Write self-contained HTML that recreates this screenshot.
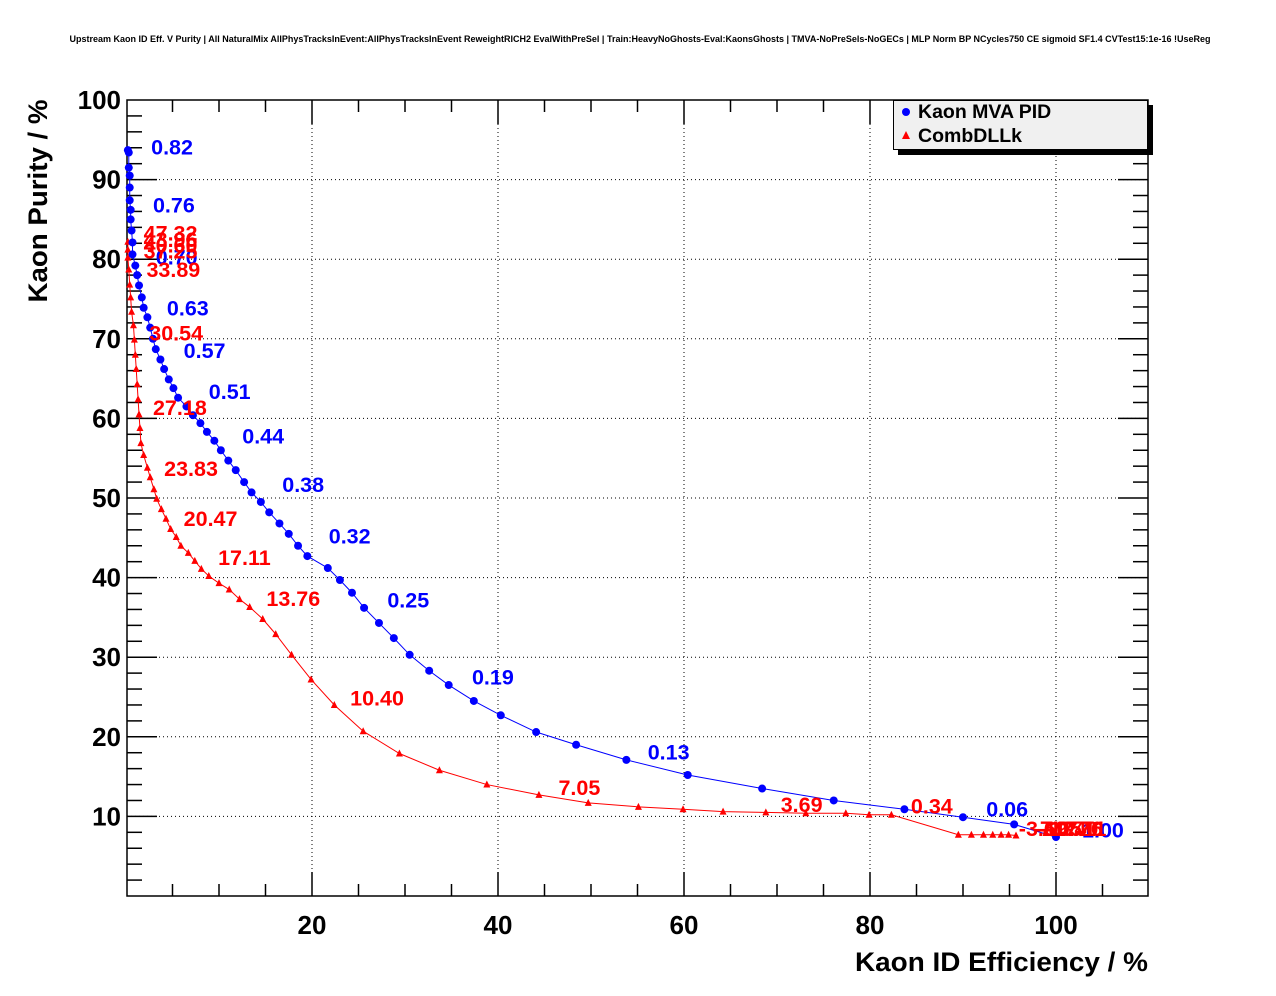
<!DOCTYPE html>
<html><head><meta charset="utf-8">
<style>
html,body{margin:0;padding:0;background:#fff;}
svg{display:block;font-family:"Liberation Sans",Arial,sans-serif;font-weight:bold;}
</style></head>
<body>
<svg id="chart" width="1276" height="996" viewBox="0 0 1276 996">
<rect x="0" y="0" width="1276" height="996" fill="#fff"/>
<text x="640" y="42" font-size="9" text-anchor="middle">Upstream Kaon ID Eff. V Purity | All NaturalMix AllPhysTracksInEvent:AllPhysTracksInEvent ReweightRICH2 EvalWithPreSel | Train:HeavyNoGhosts-Eval:KaonsGhosts | TMVA-NoPreSels-NoGECs | MLP Norm BP NCycles750 CE sigmoid SF1.4 CVTest15:1e-16 !UseReg</text>
<g id="grid"></g>
<g id="axes"></g>
<g id="series"></g>
<text transform="translate(47,201) rotate(-90)" font-size="27" text-anchor="middle" textLength="203" lengthAdjust="spacingAndGlyphs">Kaon Purity / %</text>
<text x="1148" y="971" font-size="27" text-anchor="end" textLength="293" lengthAdjust="spacingAndGlyphs">Kaon ID Efficiency / %</text>
<g>
<rect x="898" y="105" width="255" height="50" fill="#000"/>
<rect x="893.5" y="100.5" width="254" height="49" fill="#f0f0f0" stroke="#000" stroke-width="1"/>
<circle cx="906" cy="112" r="4" fill="#0000ff"/>
<text x="918" y="118" font-size="19.5">Kaon MVA PID</text>
<polygon points="906,131 902,139 910,139" fill="#ff0000"/>
<text x="918" y="142" font-size="19.5">CombDLLk</text>
</g>
</svg>
<script>
const blueX=[0.2,0.3,0.3,0.4,0.4,0.4,0.5,0.5,0.6,0.7,0.7,1.0,1.2,1.4,1.7,1.9,2.3,2.6,2.9,3.2,3.7,4.1,4.6,5.1,5.6,6.5,7.2,8.0,8.7,9.5,10.2,11.0,11.8,12.7,13.5,14.5,15.4,16.5,17.5,18.5,19.5,21.7,23.0,24.3,25.6,27.2,28.8,30.5,32.6,34.7,37.4,40.3,44.1,48.4,53.8,60.4,68.4,76.1,83.7,90.0,95.5,100.0];
const blueY=[93.7,93.4,91.5,90.5,89.0,87.4,86.2,85.0,83.6,82.1,80.6,79.2,78.0,76.7,75.2,73.9,72.7,71.4,70.0,68.7,67.4,66.2,64.9,63.8,62.6,61.5,60.4,59.4,58.3,57.2,56.0,54.7,53.5,52.0,50.7,49.5,48.2,46.8,45.5,44.0,42.7,41.2,39.7,38.1,36.2,34.3,32.4,30.3,28.3,26.5,24.5,22.7,20.6,19.0,17.1,15.2,13.5,12.0,10.9,9.9,9.0,7.4];
const redX=[0.2,0.2,0.2,0.3,0.4,0.5,0.6,0.8,0.9,1.0,1.1,1.2,1.3,1.4,1.5,1.6,1.9,2.3,2.6,3.0,3.3,3.8,4.3,4.8,5.4,5.9,6.7,7.4,8.1,8.9,10.0,11.1,12.2,13.3,14.7,16.1,17.8,19.9,22.4,25.5,29.4,33.7,38.8,44.4,49.7,55.1,59.9,64.2,68.8,73.1,77.4,79.9,82.3,89.5,90.9,92.2,93.2,94.1,94.9,95.7];
const redY=[82.2,81.2,80.2,78.7,76.8,75.2,73.4,71.7,69.9,68.0,66.2,64.3,62.4,60.5,58.8,56.9,55.4,53.8,52.6,51.1,49.9,48.6,47.4,46.1,45.1,44.0,43.1,42.1,41.1,40.2,39.3,38.5,37.3,36.3,34.8,32.9,30.3,27.2,24.0,20.7,17.9,15.8,14.0,12.7,11.7,11.2,10.9,10.6,10.5,10.4,10.4,10.2,10.2,7.7,7.7,7.7,7.7,7.7,7.7,7.6];
const blueLabels=["0.82","0.76","0.70","0.63","0.57","0.51","0.44","0.38","0.32","0.25","0.19","0.13","0.06","1.00"];
const blueLabelX=[2.7,2.9,3.2,4.4,6.2,8.9,12.5,16.8,21.8,28.1,37.2,56.1,92.5,102.8];
const blueLabelY=[94.1,86.8,80.3,73.9,68.5,63.4,57.8,51.7,45.2,37.2,27.5,18.1,10.9,8.3];
const redLabels=["47.32","43.96","40.60","37.25","33.89","30.54","27.18","23.83","20.47","17.11","13.76","10.40","7.05","3.69","0.34","-3.69","-7.05","-10.40","-13.76","-17.11"];
const redLabelX=[1.9,1.9,1.9,1.9,2.2,2.5,2.9,4.1,6.2,9.9,15.1,24.1,46.5,70.4,84.4,96.0,97.5,98.0,98.5,99.0];
const redLabelY=[83.3,82.5,81.8,81.0,78.7,70.7,61.4,53.7,47.4,42.5,37.4,24.9,13.6,11.5,11.3,8.5,8.5,8.5,8.5,8.5];
const xTicks=[20,40,60,80,100];
const yTicks=[10,20,30,40,50,60,70,80,90,100];

const X0=126,XS=9.3,Y0=896,YS=7.96;
const L=127,R=1148,T=100,B=896;
function sx(v){return X0+v*XS;}
function sy(v){return Y0-v*YS;}
const NS="http://www.w3.org/2000/svg";
function mk(tag,attrs,parent){const e=document.createElementNS(NS,tag);for(const k in attrs)e.setAttribute(k,attrs[k]);parent.appendChild(e);return e;}
const grid=document.getElementById('grid'),axes=document.getElementById('axes'),series=document.getElementById('series');

xTicks.forEach(v=>{const l=mk('line',{x1:sx(v),x2:sx(v),y1:T,y2:B,stroke:'#000','stroke-width':1,'stroke-dasharray':'1,3'},grid);

});
yTicks.forEach(v=>{const l=mk('line',{x1:L,x2:R,y1:sy(v),y2:sy(v),stroke:'#000','stroke-width':1,'stroke-dasharray':'1,3'},grid);

});

const frame=mk('rect',{x:L,y:T,width:R-L,height:B-T,fill:'none',stroke:'#000','stroke-width':1.5},axes);


for(let v=5;v<=110;v+=5){const len=(v%20===0)?24:12;const x=sx(v);if(x>R)break;
 mk('line',{x1:x,x2:x,y1:B,y2:B-len,stroke:'#000','stroke-width':1.5},axes);
 mk('line',{x1:x,x2:x,y1:T,y2:T+len,stroke:'#000','stroke-width':1.5},axes);}
for(let v=2;v<100;v+=2){const len=(v%10===0)?30:15;const y=sy(v);
 mk('line',{x1:L,x2:L+len,y1:y,y2:y,stroke:'#000','stroke-width':1.5},axes);
 mk('line',{x1:R,x2:R-len,y1:y,y2:y,stroke:'#000','stroke-width':1.5},axes);}
xTicks.forEach(v=>{const t=mk('text',{x:sx(v),y:934,'font-size':26,'text-anchor':'middle'},axes);t.textContent=v;

});
yTicks.forEach(v=>{const t=mk('text',{x:121,y:sy(v)+9,'font-size':26,'text-anchor':'end'},axes);t.textContent=v;

});

function drawLine(xs,ys,color,name){const p=mk('polyline',{points:xs.map((x,i)=>sx(x)+','+sy(ys[i])).join(' '),fill:'none',stroke:color,'stroke-width':1},series);

}
drawLine(redX,redY,'#ff0000','dllk-line');
drawLine(blueX,blueY,'#0000ff','mva-line');
redX.forEach((x,i)=>{const cx=sx(x),cy=sy(redY[i]);const m=mk('polygon',{points:`${cx},${cy-4} ${cx-3.5},${cy+3} ${cx+3.5},${cy+3}`,fill:'#ff0000'},series);

});
blueX.forEach((x,i)=>{const m=mk('circle',{cx:sx(x),cy:sy(blueY[i]),r:4,fill:'#0000ff'},series);

});
blueLabels.forEach((s,i)=>{const t=mk('text',{x:sx(blueLabelX[i]),y:sy(blueLabelY[i])+7.5,'font-size':21.5,fill:'#0000ff'},series);t.textContent=s;

});
redLabels.forEach((s,i)=>{const t=mk('text',{x:sx(redLabelX[i]),y:sy(redLabelY[i])+7.5,'font-size':21.5,fill:'#ff0000'},series);t.textContent=s;

});
</script>
</body></html>
